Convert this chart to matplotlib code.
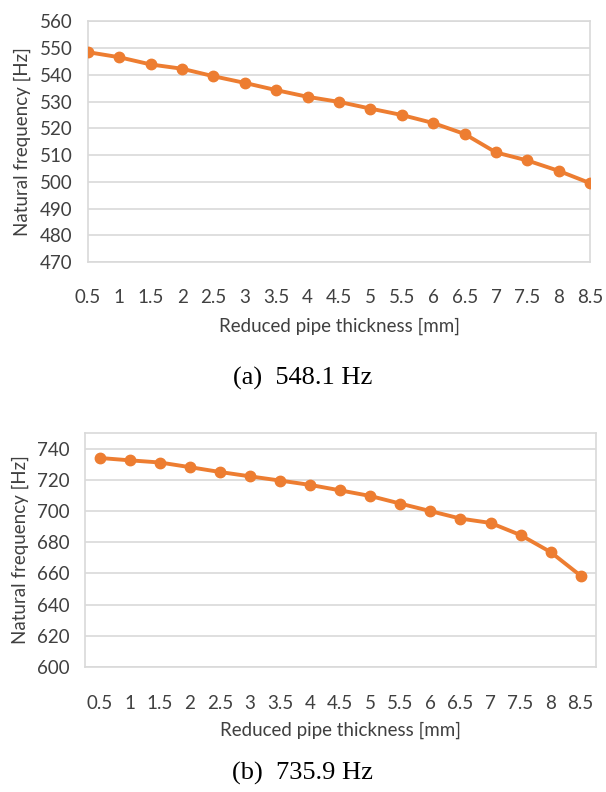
import matplotlib.pyplot as plt

# reduced pipe thickness [mm]
thick = [0.5, 1, 1.5, 2, 2.5, 3, 3.5, 4, 4.5, 5, 5.5, 6, 6.5, 7, 7.5, 8, 8.5]
tick_labels = ['0.5', '1', '1.5', '2', '2.5', '3', '3.5', '4', '4.5', '5',
               '5.5', '6', '6.5', '7', '7.5', '8', '8.5']

# mode (a) 548.1 Hz
freq_a = [548.5, 546.6, 543.9, 542.3, 539.5, 537.0, 534.3, 531.8, 529.9,
          527.4, 525.0, 522.0, 517.9, 511.0, 508.0, 504.1, 499.5]
# mode (b) 735.9 Hz
freq_b = [734.1, 732.6, 731.2, 728.2, 725.1, 722.3, 719.6, 716.8, 713.3,
          709.7, 704.8, 700.0, 695.2, 692.4, 684.6, 673.7, 658.5]

orange = '#ED7D31'
grid = '#D9D9D9'
txt = '#404040'
sans = ['Lato', 'DejaVu Sans']

fig = plt.figure(figsize=(6.06, 7.92), dpi=100)


def panel(rect, y, ylim, yticks, xpad, xlim, xlabpad):
    ax = fig.add_axes(rect)
    idx = list(range(len(thick)))
    ax.plot(idx, y, color=orange, lw=2.8, marker='o', ms=7.5, zorder=3)
    ax.set_xlim(*xlim)
    ax.set_ylim(*ylim)
    ax.set_yticks(yticks)
    ax.set_xticks(idx)
    ax.set_xticklabels(tick_labels)
    ax.grid(axis='y', color=grid, lw=1.2)
    ax.set_axisbelow(True)
    for s in ax.spines.values():
        s.set_color(grid)
        s.set_linewidth(1.2)
    ax.tick_params(length=0, labelsize=13.5, labelcolor=txt)
    ax.tick_params(axis='x', pad=xpad)
    ax.tick_params(axis='y', pad=11)
    for lab in ax.get_xticklabels() + ax.get_yticklabels():
        lab.set_family(sans)
    ax.set_ylabel('Natural frequency [Hz]', fontsize=13.5, color=txt,
                  family=sans, labelpad=6)
    ax.set_xlabel('Reduced pipe thickness [mm]', fontsize=13.5, color=txt,
                  family=sans, labelpad=xlabpad)
    return ax


panel([0.145, 0.669, 0.829, 0.304], freq_a, (470, 560), range(470, 561, 10),
      19, (0, 16), 9)
panel([0.140, 0.158, 0.843, 0.295], freq_b, (600, 750), range(600, 741, 20),
      20, (-0.5, 16.5), 7)

fig.text(0.5, 0.522, '(a)  548.1 Hz', ha='center', va='center', fontsize=19,
         family='Liberation Serif')
fig.text(0.5, 0.024, '(b)  735.9 Hz', ha='center', va='center', fontsize=19,
         family='Liberation Serif')

fig.savefig('out.png', dpi=100)
